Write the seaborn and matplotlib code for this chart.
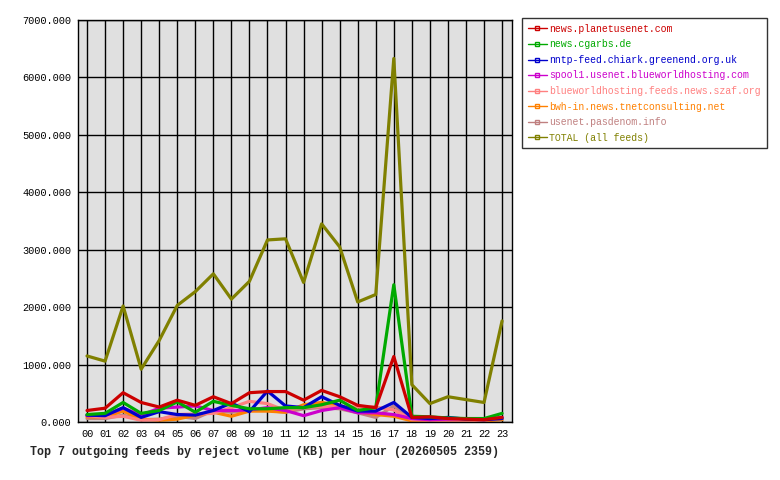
import matplotlib.pyplot as plt
import pandas as pd
import seaborn as sns
from matplotlib.lines import Line2D

hours = ["00", "01", "02", "03", "04", "05", "06", "07", "08", "09", "10", "11",
         "12", "13", "14", "15", "16", "17", "18", "19", "20", "21", "22", "23"]

feeds = ["news.planetusenet.com", "news.cgarbs.de", "nntp-feed.chiark.greenend.org.uk",
         "spool1.usenet.blueworldhosting.com", "blueworldhosting.feeds.news.szaf.org",
         "bwh-in.news.tnetconsulting.net", "usenet.pasdenom.info", "TOTAL (all feeds)"]

planetusenet = [200, 240, 510, 340, 260, 380, 290, 440, 320, 510, 530, 530,
                380, 550, 440, 290, 250, 1140, 80, 90, 60, 50, 40, 80]
cgarbs = [130, 150, 340, 150, 200, 350, 170, 360, 290, 230, 230, 250,
          250, 300, 380, 200, 250, 2390, 100, 90, 70, 60, 60, 150]
chiark = [120, 110, 250, 80, 180, 130, 120, 200, 330, 180, 540, 280,
          250, 440, 290, 190, 190, 340, 80, 60, 80, 50, 40, 60]
spool1 = [110, 120, 240, 120, 240, 260, 280, 200, 200, 210, 250, 200,
          110, 200, 250, 160, 160, 130, 60, 40, 50, 60, 50, 80]
szaf = [110, 80, 100, 30, 40, 130, 140, 150, 250, 360, 320, 200,
        260, 270, 260, 260, 260, 210, 40, 30, 30, 30, 30, 70]
tnet = [90, 90, 190, 50, 30, 50, 120, 170, 100, 190, 190, 170,
        300, 340, 290, 180, 130, 100, 20, 20, 20, 20, 20, 40]
pasdenom = [60, 60, 120, 40, 50, 100, 60, 200, 170, 200, 200, 170,
            230, 250, 230, 160, 80, 280, 40, 30, 30, 30, 30, 60]
total = [1150, 1060, 2020, 920, 1420, 2030, 2270, 2580, 2140, 2450, 3170, 3190,
         2430, 3450, 3050, 2090, 2220, 6330, 650, 320, 440, 390, 340, 1760]

colors = ["#CC0000", "#00AA00", "#0000CC", "#CC00CC", "#FF8080", "#FF8000", "#C08080", "#808000"]

series = [planetusenet, cgarbs, chiark, spool1, szaf, tnet, pasdenom, total]
rows = []
for name, vals in zip(feeds, series):
    for i, v in enumerate(vals):
        rows.append({"hour": i, "feed": name, "kb": v})
df = pd.DataFrame(rows)

sns.set_style("white")
plt.rcParams['font.family'] = ['Liberation Mono', 'DejaVu Sans Mono']

fig = plt.figure(figsize=(7.8, 4.8), dpi=100, facecolor='w')
ax = fig.add_axes([78 / 780, 1 - 422 / 480, 434 / 780, 402 / 480])
ax.set_facecolor("#E0E0E0")

# total first so the feeds sit on top of it
pal = dict(zip(feeds, colors))
for name in feeds[::-1]:
    sns.lineplot(data=df[df.feed == name], x="hour", y="kb", color=pal[name],
                 linewidth=2.3, ax=ax, legend=False)

ax.set_xlim(-0.5, 23.55)
ax.set_ylim(0, 7000)
ax.set_xticks(range(24))
ax.set_xticklabels(hours)
ax.set_yticks(range(0, 7001, 1000))
ax.set_yticklabels(["%d.000" % v for v in range(0, 7001, 1000)])
ax.tick_params(length=0, labelsize=7.4, colors="black", pad=5)
ax.grid(True, color="black", linewidth=1)
ax.set_axisbelow(True)
for s in ax.spines.values():
    s.set_color("black")
    s.set_linewidth(1)
ax.set_xlabel("")
ax.set_ylabel("")

handles = [Line2D([0], [0], color=c, lw=1, marker="s", markersize=2.5,
                  markerfacecolor="none", markeredgecolor=c) for c in colors]
leg = fig.legend(handles, feeds, loc="upper left", bbox_to_anchor=(522 / 780, 1 - 18 / 480),
                 frameon=True, fancybox=False, handlelength=1.9, handletextpad=0.25,
                 borderpad=0.6, borderaxespad=0, labelspacing=0.56, prop={"size": 7.1})
leg.get_frame().set_edgecolor("black")
leg.get_frame().set_linewidth(1)
for t, c in zip(leg.get_texts(), colors):
    t.set_color(c)

fig.text(265 / 780, 1 - 452 / 480,
         "Top 7 outgoing feeds by reject volume (KB) per hour (20260505 2359)",
         ha="center", va="center", fontsize=8.4, fontweight="bold")

fig.savefig("out.png", dpi=100, facecolor="w")
